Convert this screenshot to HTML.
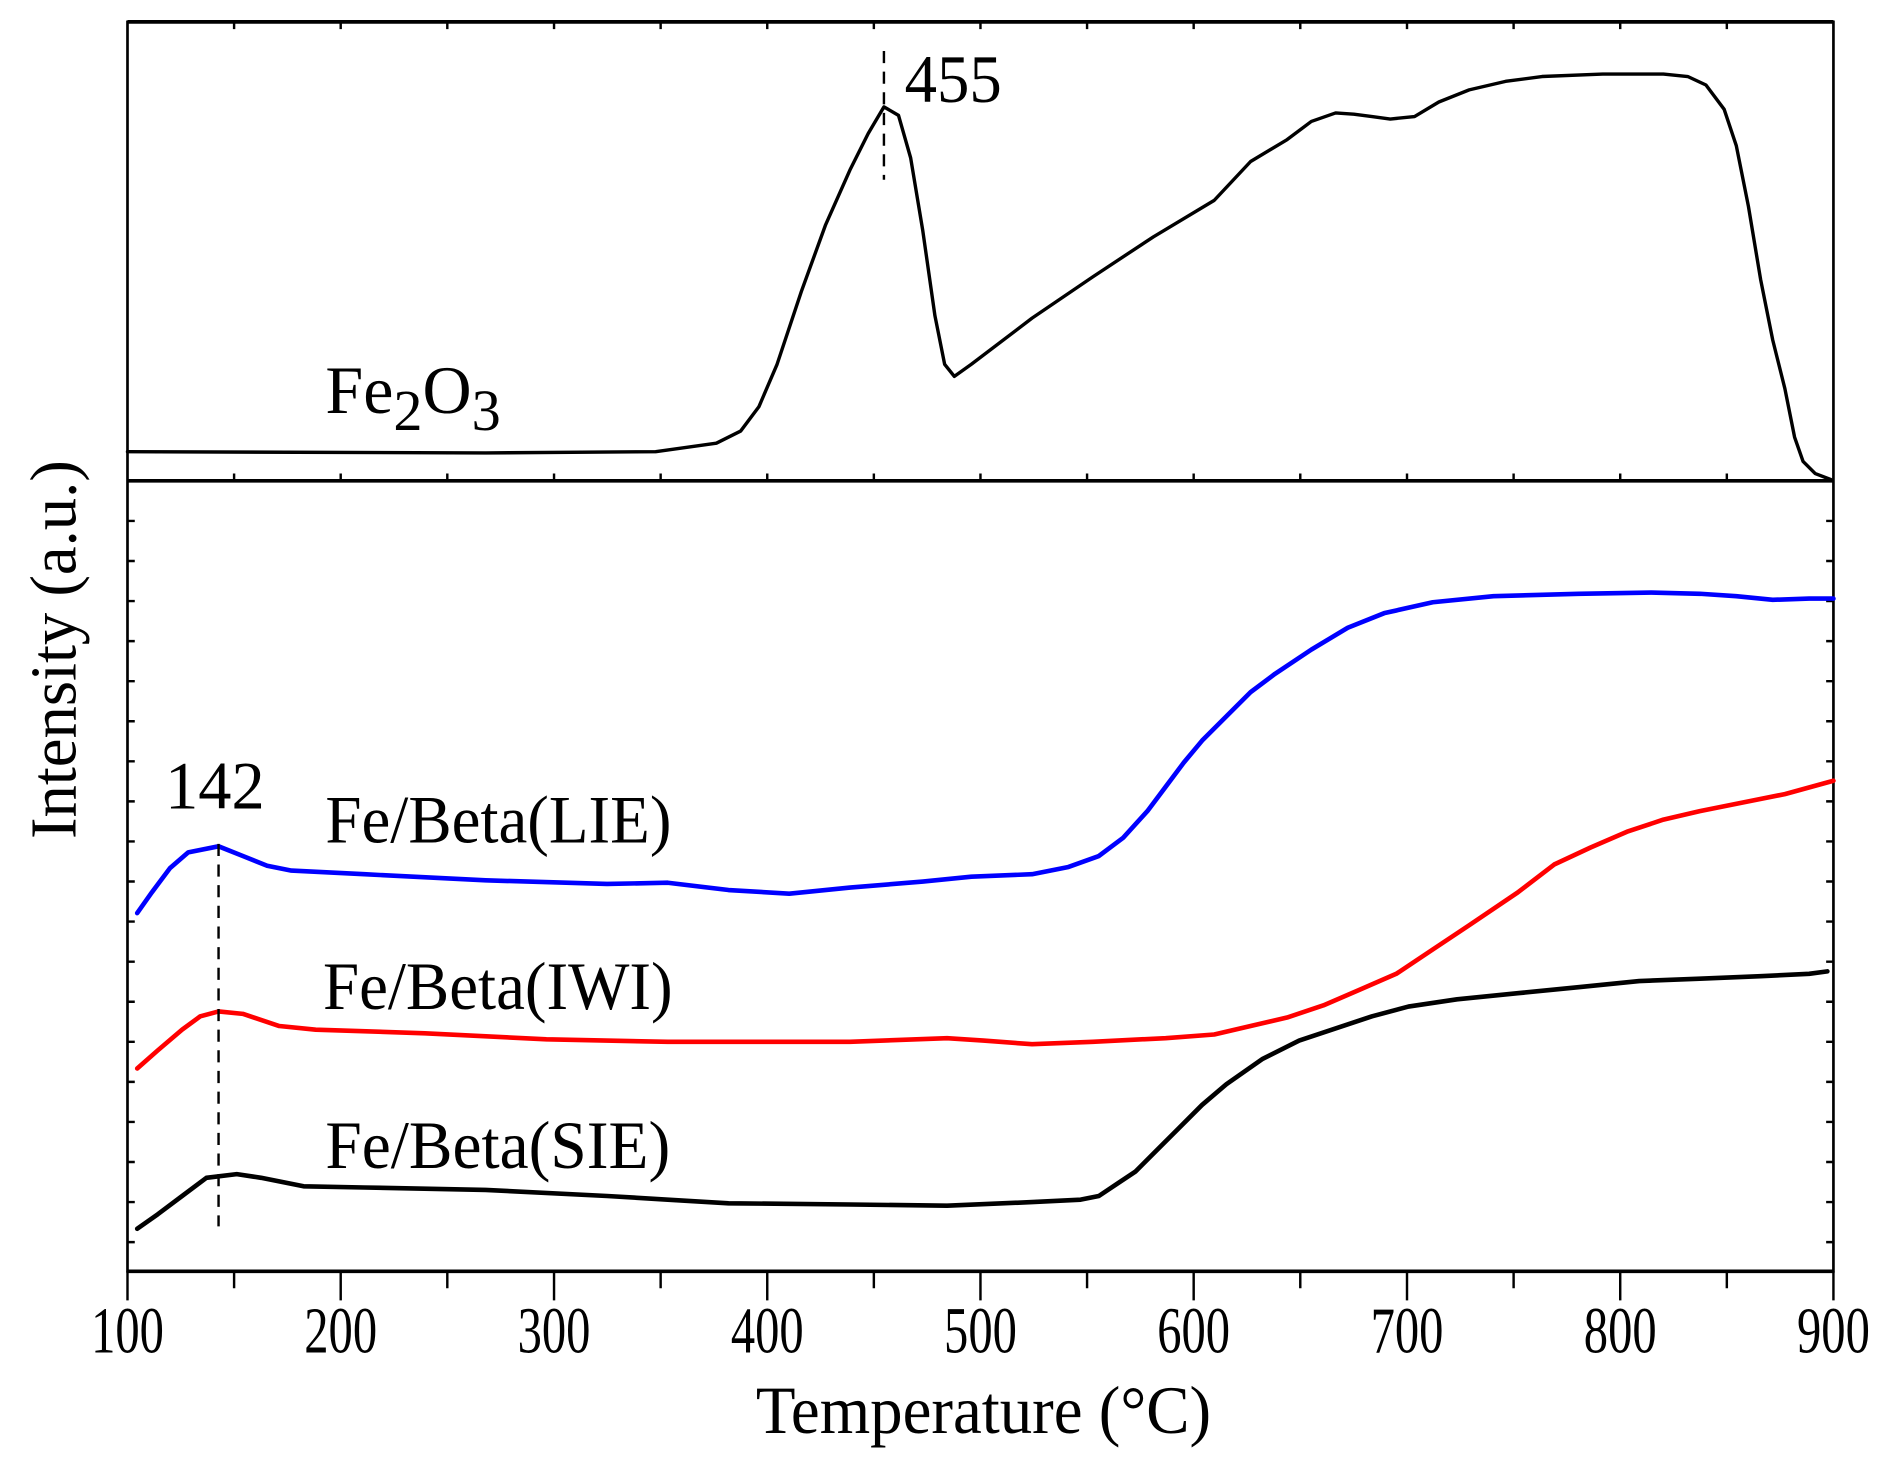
<!DOCTYPE html>
<html><head><meta charset="utf-8"><style>html,body{margin:0;padding:0;background:#fff}svg{display:block}</style></head>
<body>
<svg width="1899" height="1472" viewBox="0 0 1564 1212.3" xmlns="http://www.w3.org/2000/svg" font-family="Liberation Serif, serif">
<g fill="none" stroke="#000" stroke-width="2.2">
<rect x="105" y="18" width="1405" height="1029"/>
<line x1="105" y1="396" x2="1510" y2="396" stroke-width="3"/>
<line x1="105" y1="18" x2="1510" y2="18" stroke-width="3"/>
<line x1="105" y1="1047" x2="1510" y2="1047" stroke-width="3"/>
</g>
<g stroke="#000" stroke-width="2">
<path d="M105 1047v24M280.6 1047v24M456.3 1047v24M631.9 1047v24M807.5 1047v24M983.1 1047v24M1158.8 1047v24M1334.4 1047v24M1510 1047v24"/>
<path d="M192.8 1047v14M368.4 1047v14M544.1 1047v14M719.7 1047v14M895.3 1047v14M1070.9 1047v14M1246.6 1047v14M1422.2 1047v14"/>
<path d="M192.8 396v-6M280.6 396v-6M368.4 396v-6M456.3 396v-6M544.1 396v-6M631.9 396v-6M719.7 396v-6M807.5 396v-6M895.3 396v-6M983.1 396v-6M1070.9 396v-6M1158.8 396v-6M1246.6 396v-6M1334.4 396v-6M1422.2 396v-6"/>
<path d="M192.8 18v6M280.6 18v6M368.4 18v6M456.3 18v6M544.1 18v6M631.9 18v6M719.7 18v6M807.5 18v6M895.3 18v6M983.1 18v6M1070.9 18v6M1158.8 18v6M1246.6 18v6M1334.4 18v6M1422.2 18v6"/>
<path d="M105 429h6M105 462h6M105 495h6M105 528h6M105 561h6M105 594h6M105 627h6M105 660h6M105 693h6M105 726h6M105 759h6M105 792h6M105 825h6M105 858h6M105 891h6M105 924h6M105 957h6M105 990h6M105 1023h6"/>
<path d="M1510 429h-6M1510 462h-6M1510 495h-6M1510 528h-6M1510 561h-6M1510 594h-6M1510 627h-6M1510 660h-6M1510 693h-6M1510 726h-6M1510 759h-6M1510 792h-6M1510 825h-6M1510 858h-6M1510 891h-6M1510 924h-6M1510 957h-6M1510 990h-6M1510 1023h-6"/>
</g>
<g fill="none" stroke-linejoin="round" stroke-linecap="round">
<polyline stroke="#000" stroke-width="2.8" points="105,372 400,373 540,372 590,365 610,355 625,335 640,300 660,240 680,185 700,140 715,110 728,88 740,95 750,130 760,190 770,260 778,300 786,310 800,300 850,262 900,228 950,195 1000,165 1030,133 1060,115 1080,100 1100,93 1115,94 1130,96 1145,98 1165,96 1185,84 1210,74 1240,67 1270,63 1320,61 1370,61 1390,63 1405,70 1420,90 1430,120 1440,170 1450,230 1460,280 1470,320 1478,360 1485,380 1495,390 1508,395"/>
<polyline stroke="#0000ff" stroke-width="3.8" points="113,752 125,735 140,715 155,702 180,697 200,705 220,713 240,717 300,720 400,725 500,728 550,727 600,733 650,736 700,731 760,726 800,722 850,720 880,714 905,705 925,690 945,668 960,648 975,628 990,610 1010,590 1030,570 1050,555 1080,535 1110,517 1140,505 1180,496 1230,491 1300,489 1360,488 1400,489 1430,491 1460,494 1490,493 1510,493"/>
<polyline stroke="#ff0000" stroke-width="3.8" points="113,880 130,865 150,848 165,837 180,833 200,835 230,845 260,848 350,851 450,856 550,858 700,858 780,855 810,857 850,860 900,858 960,855 1000,852 1030,845 1060,838 1090,828 1120,815 1150,802 1180,782 1210,762 1250,735 1280,712 1310,698 1340,685 1370,675 1400,668 1440,660 1470,654 1510,643"/>
<polyline stroke="#000" stroke-width="3.8" points="113,1012 130,1000 150,985 170,970 195,967 215,970 250,977 300,978 400,980 500,985 550,988 600,991 700,992 780,993 850,990 890,988 905,985 920,975 935,965 950,950 970,930 990,910 1010,893 1040,872 1070,857 1100,847 1130,837 1160,829 1200,823 1250,818 1300,813 1350,808 1400,806 1450,804 1490,802 1505,800"/>
</g>
<g stroke="#000" stroke-width="2" stroke-dasharray="10,7">
<line x1="728" y1="42" x2="728" y2="148"/>
<line x1="180" y1="695" x2="180" y2="1010"/>
</g>
<g fill="#000" font-size="56">
<text x="745" y="84" textLength="80" lengthAdjust="spacingAndGlyphs">455</text>
<text x="136" y="666" textLength="82" lengthAdjust="spacingAndGlyphs">142</text>
<text x="268" y="340" font-size="56">Fe<tspan font-size="48" dy="14">2</tspan><tspan dy="-14">O</tspan><tspan font-size="48" dy="14">3</tspan></text>
<text x="268" y="694" textLength="285" lengthAdjust="spacingAndGlyphs">Fe/Beta(LIE)</text>
<text x="266" y="831" textLength="288" lengthAdjust="spacingAndGlyphs">Fe/Beta(IWI)</text>
<text x="268" y="962" textLength="284" lengthAdjust="spacingAndGlyphs">Fe/Beta(SIE)</text>
</g>
<g fill="#000" font-size="54" text-anchor="middle">
<text x="105" y="1114" textLength="60" lengthAdjust="spacingAndGlyphs">100</text>
<text x="280.6" y="1114" textLength="60" lengthAdjust="spacingAndGlyphs">200</text>
<text x="456.3" y="1114" textLength="60" lengthAdjust="spacingAndGlyphs">300</text>
<text x="631.9" y="1114" textLength="60" lengthAdjust="spacingAndGlyphs">400</text>
<text x="807.5" y="1114" textLength="60" lengthAdjust="spacingAndGlyphs">500</text>
<text x="983.1" y="1114" textLength="60" lengthAdjust="spacingAndGlyphs">600</text>
<text x="1158.8" y="1114" textLength="60" lengthAdjust="spacingAndGlyphs">700</text>
<text x="1334.4" y="1114" textLength="60" lengthAdjust="spacingAndGlyphs">800</text>
<text x="1510" y="1114" textLength="60" lengthAdjust="spacingAndGlyphs">900</text>
<text x="810" y="1180" font-size="56" textLength="375" lengthAdjust="spacingAndGlyphs">Temperature (°C)</text>
<text transform="translate(62,535) rotate(-90)" font-size="54" textLength="312" lengthAdjust="spacingAndGlyphs">Intensity (a.u.)</text>
</g>
</svg>
</body></html>
